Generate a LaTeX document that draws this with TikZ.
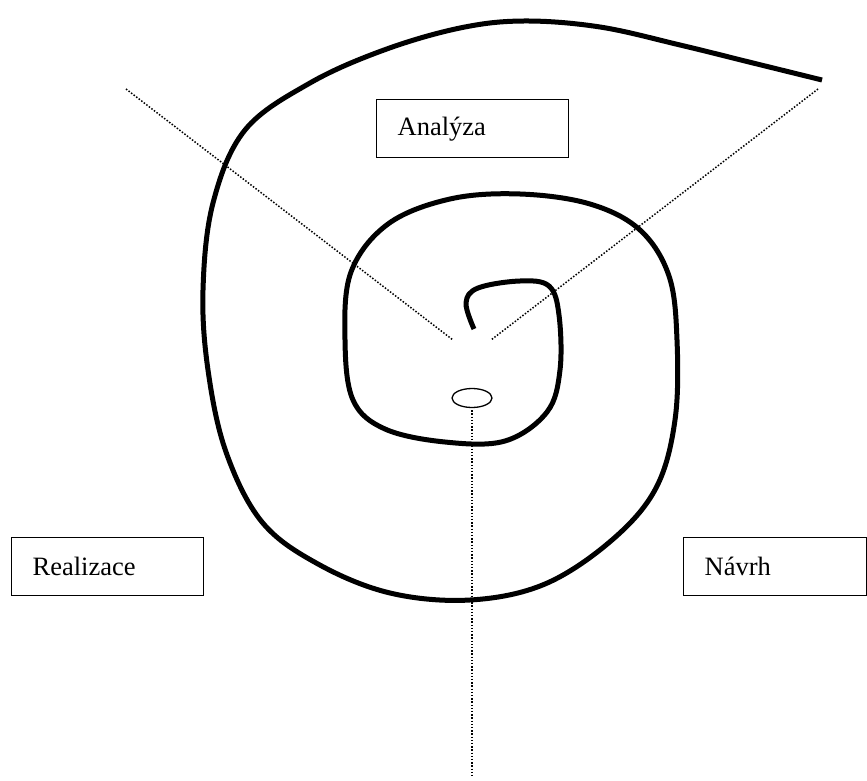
\documentclass[tikz,border=0pt]{standalone}
\usepackage{fontspec}
\setmainfont{Liberation Serif}
\usetikzlibrary{shapes.geometric}
\begin{document}
\begin{tikzpicture}[x=1pt,y=-1pt,
  labelbox/.style={draw, line width=1.3pt, minimum height=58pt, inner xsep=21pt,
    align=left, font=\fontsize{26.5}{30}\selectfont, anchor=north west},
  spiralline/.style={line width=5pt, line cap=butt, line join=round},
  guide/.style={line width=1.5pt, dash pattern=on 1.5pt off 1.7pt}]
\useasboundingbox (0,0) rectangle (867,781);

% spiral
\draw[spiralline] plot[smooth, tension=0.6] coordinates {
 (474,329) (466,303) (478,288) (520,281) (549,286) (559,315) (560,370)
 (547,412) (505,441) (445,442) (385,429) (353,400) (345,340) (351,272)
 (388,224) (450,199) (520,194) (590,204) (640,230) (669,276) (677,340)
 (675,420) (656,488) (612,540) (545,584) (470,600) (390,593) (318,564)
 (262,522) (226,452) (208,370) (203,290) (213,203) (245,130) (310,83)
 (384,50) (460,28) (524,21) (600,27) (680,45) (753,63) (822,80)};

% boxes
\node[labelbox, minimum width=192pt, text width=150pt] (ana) at (376,99) {Analýza};
\node[labelbox, minimum width=192pt, text width=150pt] (real) at (11,537) {Realizace};
\node[labelbox, minimum width=183pt, text width=141pt] (navrh) at (683,537) {Návrh};

% center ellipse
\node[draw, ellipse, line width=1.3pt, minimum width=40pt, minimum height=19pt, inner sep=0pt] (ell) at (472,398) {};

% guide lines
\coordinate (lt) at (126,89);
\coordinate (lc) at (453,340);
\coordinate (rt) at (818,89);
\coordinate (rc) at (491,340);
\coordinate (bt) at (472,775);
\draw[guide] (lt) -- (lc);
\draw[guide] (rt) -- (rc);
\draw[guide] ([yshift=-2pt]ell.south) -- (bt);
\end{tikzpicture}
\end{document}
